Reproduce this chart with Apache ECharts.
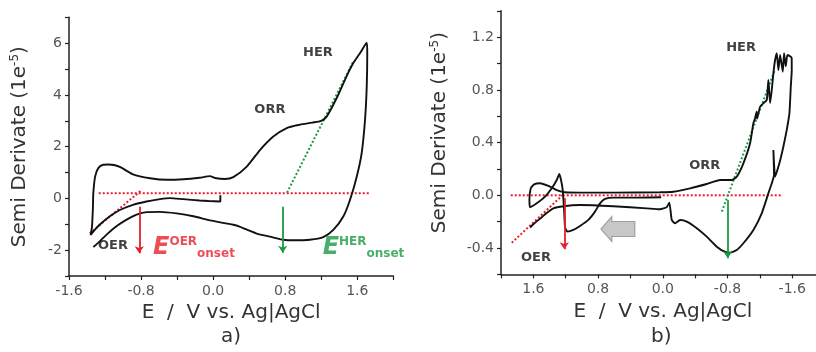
<!DOCTYPE html>
<html><head><meta charset="utf-8">
<script src="https://cdn.jsdelivr.net/npm/echarts@6/dist/echarts.min.js"></script>
<style>html,body{margin:0;padding:0;background:#fff}#c{width:816px;height:352px}</style>
</head><body><div id="c"></div>
<script>
// ---------- Panel a data (E in V, semi derivative in 1e-5) ----------
const aInner = [[0.08,0.12],[0.08,-0.12],[-0.05,-0.10],[-0.15,-0.08],[-0.33,-0.03],[-0.48,0.01],[-0.59,-0.03],[-0.74,-0.12],[-0.89,-0.25],[-1.03,-0.44],[-1.15,-0.70],[-1.26,-1.02],[-1.33,-1.28],[-1.36,-1.41]];
const aUpper = [[-1.345,-1.1],[-1.335,-0.4],[-1.33,0.2],[-1.31,0.84],[-1.275,1.17],[-1.22,1.30],[-1.16,1.31],[-1.10,1.29],[-1.03,1.21],[-0.89,0.93],[-0.70,0.78],[-0.515,0.72],[-0.33,0.74],[-0.15,0.80],[-0.035,0.86],[0.02,0.79],[0.13,0.75],[0.224,0.82],[0.373,1.23],[0.52,1.87],[0.668,2.39],[0.817,2.72],[0.964,2.85],[1.10,2.93],[1.20,3.0],[1.26,3.16],[1.37,3.87],[1.48,4.71],[1.556,5.23],[1.63,5.61],[1.705,6.02]];
const aReturn = [[1.711,5.61],[1.705,4.32],[1.686,3.03],[1.649,1.75],[1.594,0.84],[1.519,-0.06],[1.445,-0.70],[1.334,-1.22],[1.223,-1.50],[1.075,-1.60],[0.89,-1.62],[0.78,-1.60],[0.631,-1.48],[0.484,-1.36],[0.41,-1.26],[0.30,-1.10],[0.224,-1.02],[-0.035,-0.85],[-0.22,-0.69],[-0.405,-0.58],[-0.59,-0.52],[-0.738,-0.53],[-0.85,-0.63],[-0.96,-0.82],[-1.07,-1.07],[-1.18,-1.39],[-1.256,-1.65],[-1.33,-1.88]];
const aBaseline = [[-1.27,0.2],[1.74,0.2]];
const aOerTangent = [[-1.37,-1.35],[-0.79,0.33]];
const aHerTangent = [[0.82,0.22],[1.556,5.29]];
const aOerArrow = [[-0.82,-0.32],[-0.82,-2.12]];
const aHerArrow = [[0.772,-0.32],[0.772,-2.10]];
const aLabels = [{name:'HER',value:[1.164,5.62]},{name:'ORR',value:[0.63,3.42]},{name:'OER',value:[-1.112,-1.84]}];
const aOnset = [{name:'OER',value:[-0.667,-1.91]},{name:'HER',value:[1.216,-1.91]}];

// ---------- Panel b data ----------
const bStart = [[0.02,-0.015],[0.32,-0.018],[0.61,-0.018],[0.714,-0.028],[0.776,-0.061],[0.838,-0.124],[0.92,-0.187],[1.023,-0.233],[1.106,-0.263],[1.18,-0.276],[1.208,-0.243],[1.22,-0.112],[1.237,0.04],[1.258,0.116],[1.279,0.162],[1.311,0.116],[1.373,0.053],[1.455,-0.01],[1.558,-0.061],[1.641,-0.091]];
const bUpper = [[1.649,-0.036],[1.632,0.053],[1.591,0.083],[1.517,0.091],[1.415,0.071],[1.311,0.04],[1.208,0.023],[1.023,0.02],[0.611,0.02],[0.034,0.023],[-0.131,0.027],[-0.337,0.053],[-0.543,0.086],[-0.708,0.116],[-0.852,0.116],[-0.914,0.141],[-0.996,0.243],[-1.079,0.395],[-1.119,0.546],[-1.14,0.584],[-1.16,0.635],[-1.165,0.58],[-1.202,0.672],[-1.243,0.698],[-1.285,0.723],[-1.305,0.875],[-1.326,0.70],[-1.347,0.80],[-1.367,0.926],[-1.388,1.027],[-1.409,1.078],[-1.429,0.951],[-1.45,1.065],[-1.483,0.938],[-1.499,1.078],[-1.52,0.98],[-1.54,1.065],[-1.582,1.052],[-1.593,1.04]];
const bReturn = [[-1.594,0.95],[-1.582,0.824],[-1.565,0.622],[-1.532,0.496],[-1.49,0.369],[-1.441,0.243],[-1.388,0.142],[-1.367,0.344],[-1.375,0.154],[-1.347,0.091],[-1.305,0.015],[-1.223,-0.137],[-1.12,-0.263],[-0.996,-0.364],[-0.914,-0.415],[-0.831,-0.435],[-0.77,-0.43],[-0.667,-0.39],[-0.543,-0.314],[-0.42,-0.25],[-0.296,-0.2],[-0.213,-0.188],[-0.152,-0.213],[-0.111,-0.188],[-0.081,-0.056],[-0.048,-0.09],[0.034,-0.106],[0.198,-0.099],[0.611,-0.083],[1.023,-0.074],[1.229,-0.083],[1.353,-0.099],[1.435,-0.134],[1.517,-0.177],[1.6,-0.22],[1.641,-0.245]];
const bBaseline = [[1.88,0],[-1.47,0]];
const bOerTangent = [[1.867,-0.36],[1.24,0.0]];
const bHerTangent = [[-0.729,-0.124],[-1.388,0.956]];
const bOerArrow = [[1.217,-0.023],[1.217,-0.41]];
const bHerArrow = [[-0.803,-0.036],[-0.803,-0.478]];
const bLabels = [{name:'HER',value:[-0.967,1.118]},{name:'ORR',value:[-0.519,0.222]},{name:'OER',value:[1.567,-0.476]}];
const bScanArrow = [[0.556,-0.256]];

// ---------- Tick / axis text ----------
const xName = 'E  /  V vs. Ag|AgCl';
const yName = 'Semi Derivate (1e{sup|-5})';
const panelTitles = ['a)', 'b)'];

const FONT = 'DejaVu Sans';
const RED = '#e8202a', GREEN = '#1a9a45', BLACK = '#111';

function isMult(v, step){ const r = v/step; return Math.abs(r - Math.round(r)) < 1e-6; }
function fmt(step, digits){ return v => isMult(v, step) ? (Math.abs(v) < 1e-9 ? (0).toFixed(digits) : v.toFixed(digits)) : ''; }

function axisBase(){
  return {
    type:'value',
    axisLine:{show:true,onZero:false,lineStyle:{color:'#222',width:1.5}},
    axisTick:{show:true,length:4,lineStyle:{color:'#222',width:1.2}},
    splitLine:{show:false},
    nameLocation:'middle'
  };
}
function xAx(grid, min, max, inverse){
  return Object.assign(axisBase(), {gridIndex:grid, min, max, interval:0.4, inverse:!!inverse,
    axisLabel:{formatter:fmt(0.8,1), color:'#555', fontSize:14, fontFamily:FONT, margin:8},
    name:xName, nameGap:27, nameTextStyle:{fontSize:20, color:'#333', fontFamily:FONT}});
}
function yAx(grid, min, max, interval, lblStep, digits, gap, pad){
  return Object.assign(axisBase(), {gridIndex:grid, min, max, interval,
    axisLabel:{formatter:fmt(lblStep,digits), color:'#555', fontSize:14, fontFamily:FONT, margin:7},
    name:yName, nameGap:gap,
    nameTextStyle:{fontSize:20, color:'#333', fontFamily:FONT, lineHeight:22, padding:pad,
      rich:{sup:{fontSize:12, color:'#333', fontFamily:FONT, lineHeight:12, verticalAlign:'top'}}}});
}
function curve(xi, data, smooth){
  return {type:'line', xAxisIndex:xi, yAxisIndex:xi, data, symbol:'none', smooth:smooth,
    lineStyle:{color:BLACK, width:1.9}, z:3};
}
function dotted(xi, data, color){
  return {type:'line', xAxisIndex:xi, yAxisIndex:xi, data, symbol:'none',
    lineStyle:{color, width:2, type:'dotted'}, z:2};
}
function arrow(xi, data, color){
  return {type:'lines', coordinateSystem:'cartesian2d', xAxisIndex:xi, yAxisIndex:xi,
    symbol:['none','arrow'], symbolSize:7,
    lineStyle:{color, width:1.8, opacity:1}, data:[{coords:data}], z:4};
}
function labels(xi, data, size){
  return {type:'scatter', xAxisIndex:xi, yAxisIndex:xi, symbolSize:0, data,
    label:{show:true, position:'inside', formatter:'{b}', color:'#111', fontSize:size, fontWeight:'bold', fontFamily:FONT}, z:5};
}
const onsetLabel = {
  type:'scatter', xAxisIndex:0, yAxisIndex:0, symbolSize:0, z:5,
  data: aOnset.map(d => {
    const c = d.name === 'OER' ? RED : GREEN;
    return {name:d.name, value:d.value, label:{color:c, rich:{E:{color:c},sup:{color:c},sub:{color:c}}}};
  }),
  label:{show:true, position:[0,0], align:'left', verticalAlign:'middle',
    formatter: p => '{E|E}{sup|' + p.name + '}{sub|onset}',
    rich:{
      E:{fontSize:24, fontWeight:'bold', fontStyle:'italic', fontFamily:FONT, lineHeight:24},
      sup:{fontSize:12, fontWeight:'bold', fontFamily:FONT, lineHeight:12, verticalAlign:'top'},
      sub:{fontSize:12, fontWeight:'bold', fontFamily:FONT, lineHeight:12, verticalAlign:'bottom'}
    }}
};

const option = {
  animation:false,
  backgroundColor:'#fff',
  title: [
    {text:panelTitles[0], left:216, top:322, textStyle:{fontSize:20, fontWeight:'normal', color:'#333', fontFamily:FONT}},
    {text:panelTitles[1], left:646, top:322, textStyle:{fontSize:20, fontWeight:'normal', color:'#333', fontFamily:FONT}}
  ],
  grid:[
    {left:69, width:324.3, top:17.3, height:258.7, outerBoundsMode:'none', containLabel:false},
    {left:501, width:323.6, top:10.85, height:263.5, outerBoundsMode:'none', containLabel:false}
  ],
  xAxis:[ xAx(0,-1.6,2.0,false), xAx(1,-2.0,2.0,true) ],
  yAxis:[ yAx(0,-3,7,1,2,0,38,[0,0,0,0]), yAx(1,-0.6,1.4,0.2,0.4,1,50,[0,0,0,20]) ],
  series:[
    curve(0, aInner.concat(aUpper, aReturn), 0.25),
    dotted(0, aBaseline, RED), dotted(0, aOerTangent, RED), dotted(0, aHerTangent, GREEN),
    arrow(0, aOerArrow, RED), arrow(0, aHerArrow, GREEN),
    labels(0, aLabels, 13),
    onsetLabel,
    curve(1, bStart.concat(bUpper, bReturn), 0.15),
    dotted(1, bBaseline, RED), dotted(1, bOerTangent, RED), dotted(1, bHerTangent, GREEN),
    arrow(1, bOerArrow, RED), arrow(1, bHerArrow, GREEN),
    labels(1, bLabels, 13),
    {type:'scatter', xAxisIndex:1, yAxisIndex:1, data:bScanArrow, symbolSize:[34,25],
     symbol:'path://M0,12.5 L11,0 L11,5 L34,5 L34,20 L11,20 L11,25 Z',
     itemStyle:{color:'#b9b9b9', borderColor:'#8c8c8c', borderWidth:1}, z:2}
  ]
};
const chart = echarts.init(document.getElementById('c'), null, {renderer:'canvas'});
chart.setOption(option);
</script></body></html>
